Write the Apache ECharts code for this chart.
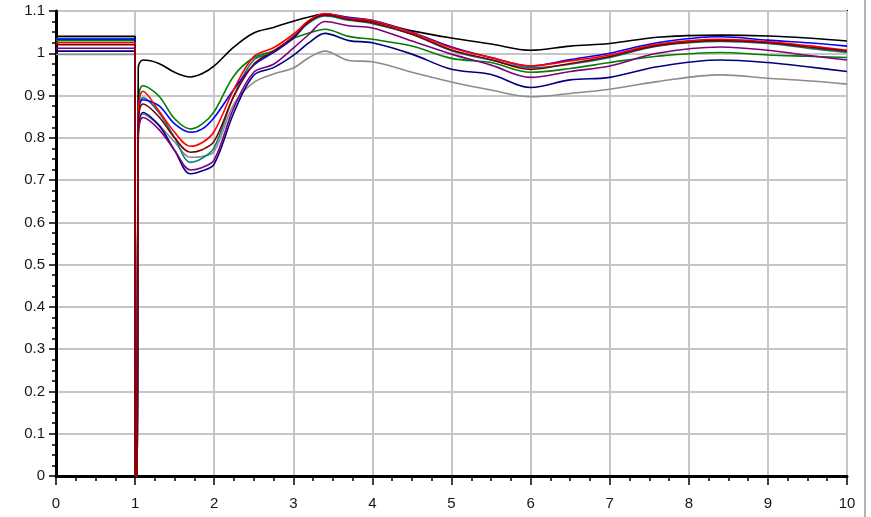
<!DOCTYPE html>
<html>
<head>
<meta charset="utf-8">
<script src="https://cdn.jsdelivr.net/npm/echarts@6/dist/echarts.min.js"></script>
<style>
  html, body { margin: 0; padding: 0; background: #fff; }
  #chart { width: 871px; height: 517px; }
</style>
</head>
<body>
<div id="chart"></div>
<script>
// Sample times (s); the fault at t = 1 pulls every trace to zero for a moment.
const times = [0, 1, 1, 1.025, 1.04, 1.1, 1.3, 1.5, 1.7, 1.85, 2.0, 2.25, 2.5, 2.75, 3.0, 3.2, 3.4, 3.7, 4.0, 4.5, 5.0, 5.5, 6.0, 6.5, 7.0, 7.6, 8.4, 9.0, 9.5, 10];

// Per-unit voltage traces
const grayV   = [0.997, 0.997, 0, 0, 0.82, 0.856, 0.830, 0.790, 0.754, 0.756, 0.768, 0.880, 0.931, 0.951, 0.965, 0.990, 1.005, 0.983, 0.980, 0.955, 0.932, 0.913, 0.897, 0.905, 0.915, 0.933, 0.949, 0.941, 0.935, 0.927];
const navyV   = [1.005, 1.005, 0, 0, 0.80, 0.860, 0.830, 0.770, 0.715, 0.722, 0.738, 0.860, 0.948, 0.966, 0.995, 1.025, 1.047, 1.030, 1.025, 0.998, 0.962, 0.950, 0.919, 0.937, 0.943, 0.968, 0.984, 0.978, 0.968, 0.957];
const greenV  = [1.030, 1.030, 0, 0, 0.88, 0.923, 0.899, 0.845, 0.821, 0.833, 0.862, 0.947, 0.990, 1.006, 1.035, 1.048, 1.057, 1.040, 1.033, 1.017, 0.988, 0.978, 0.955, 0.964, 0.978, 0.993, 1.002, 0.996, 0.993, 0.990];
const purpleV = [1.012, 1.012, 0, 0, 0.80, 0.848, 0.820, 0.770, 0.724, 0.730, 0.748, 0.872, 0.955, 0.974, 1.012, 1.045, 1.075, 1.065, 1.060, 1.029, 0.998, 0.972, 0.943, 0.957, 0.970, 1.000, 1.015, 1.007, 0.995, 0.984];
const tealV   = [1.035, 1.035, 0, 0, 0.85, 0.895, 0.860, 0.800, 0.742, 0.752, 0.777, 0.900, 0.984, 1.002, 1.040, 1.072, 1.088, 1.078, 1.070, 1.045, 1.006, 0.984, 0.966, 0.974, 0.990, 1.017, 1.028, 1.023, 1.012, 1.002];
const blackV  = [1.040, 1.040, 0, 0, 0.966, 0.984, 0.976, 0.955, 0.944, 0.952, 0.970, 1.015, 1.048, 1.061, 1.076, 1.086, 1.093, 1.083, 1.075, 1.053, 1.036, 1.022, 1.007, 1.017, 1.023, 1.038, 1.043, 1.041, 1.036, 1.029];
const blueV   = [1.033, 1.033, 0, 0, 0.84, 0.890, 0.876, 0.833, 0.813, 0.821, 0.848, 0.915, 0.972, 1.002, 1.035, 1.075, 1.093, 1.085, 1.078, 1.050, 1.015, 0.990, 0.970, 0.985, 1.000, 1.025, 1.039, 1.031, 1.025, 1.017];
const redV    = [1.025, 1.025, 0, 0, 0.86, 0.910, 0.864, 0.813, 0.780, 0.789, 0.815, 0.915, 0.992, 1.013, 1.045, 1.078, 1.094, 1.083, 1.077, 1.049, 1.013, 0.990, 0.970, 0.982, 0.996, 1.021, 1.033, 1.027, 1.018, 1.007];
const maroonV = [1.020, 1.020, 0, 0, 0.83, 0.880, 0.850, 0.800, 0.766, 0.772, 0.792, 0.899, 0.974, 1.005, 1.038, 1.075, 1.090, 1.080, 1.072, 1.045, 1.008, 0.985, 0.962, 0.976, 0.992, 1.018, 1.030, 1.025, 1.015, 1.005];

const traces = [
  { name: 'gray',   color: '#8c8c8c', values: grayV },
  { name: 'navy',   color: '#000080', values: navyV },
  { name: 'green',  color: '#008000', values: greenV },
  { name: 'purple', color: '#800080', values: purpleV },
  { name: 'teal',   color: '#008080', values: tealV },
  { name: 'black',  color: '#000000', values: blackV },
  { name: 'blue',   color: '#0000ff', values: blueV },
  { name: 'red',    color: '#ff0000', values: redV },
  { name: 'maroon', color: '#800000', values: maroonV }
];

const labelFont = { fontFamily: '"Liberation Sans", Arial, sans-serif', fontSize: 15, color: '#151520' };

const chart = echarts.init(document.getElementById('chart'), null, { renderer: 'canvas' });
chart.setOption({
  animation: false,
  backgroundColor: '#ffffff',
  grid: {
    left: 56, right: 24, top: 11, bottom: 41,
    show: true, borderColor: '#000', borderWidth: 2, backgroundColor: 'transparent'
  },
  xAxis: {
    type: 'value', min: 0, max: 10, interval: 1,
    axisLine: { show: true, onZero: false, lineStyle: { color: '#000', width: 3 } },
    axisTick: { show: true, inside: false, length: 9, lineStyle: { color: '#000', width: 1.5 } },
    minorTick: { show: true, splitNumber: 4, length: 5, lineStyle: { color: '#000', width: 1.5 } },
    axisLabel: Object.assign({ margin: 20 }, labelFont),
    splitLine: { show: true, lineStyle: { color: '#c6c6c6', width: 2 } }
  },
  yAxis: {
    type: 'value', min: 0, max: 1.1, interval: 0.1,
    axisLine: { show: true, onZero: false, lineStyle: { color: '#000', width: 3 } },
    axisTick: { show: true, inside: false, length: 7, lineStyle: { color: '#000', width: 1.5 } },
    minorTick: { show: true, splitNumber: 4, length: 4, lineStyle: { color: '#000', width: 1.5 } },
    axisLabel: Object.assign({ margin: 11, formatter: v => String(+v.toFixed(1)) }, labelFont),
    splitLine: { show: true, lineStyle: { color: '#c6c6c6', width: 2 } }
  },
  series: traces.map(t => ({
    name: t.name,
    type: 'line',
    data: times.map((x, i) => [x, t.values[i]]),
    showSymbol: false,
    symbol: 'none',
    smooth: 0.35,
    lineStyle: { color: t.color, width: 1.6 },
    itemStyle: { color: t.color },
    z: 3
  })),
  graphic: [{
    type: 'line',
    shape: { x1: 865, y1: 0, x2: 865, y2: 517 },
    style: { stroke: '#b4b4b4', lineWidth: 2 }
  }]
});
</script>
</body>
</html>
